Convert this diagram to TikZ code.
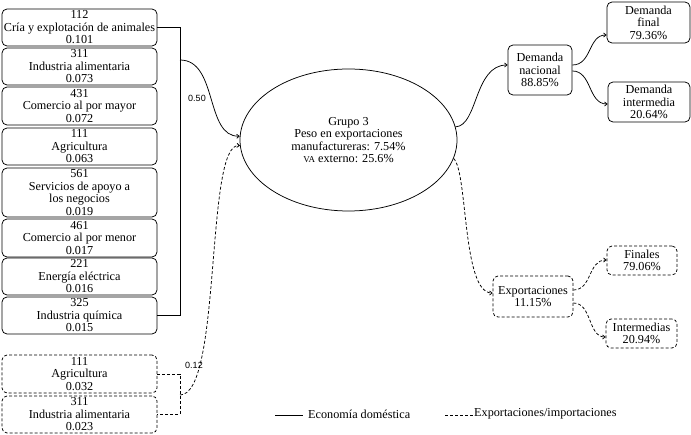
\documentclass[tikz,border=0pt]{standalone}
\usepackage{fontspec}
\setmainfont{Liberation Serif}
\newfontfamily\lsans{Liberation Sans}
\usetikzlibrary{arrows.meta,shapes.geometric}
\newcommand{\fs}{\fontsize{12.2pt}{12.5pt}\selectfont}
\newcommand{\smc}[1]{{\fontsize{9pt}{9pt}\selectfont #1}}
\begin{document}
\begin{tikzpicture}[x=1pt,y=-1pt,
  box/.style={draw, rounded corners=5pt, align=center, inner sep=0pt, font=\fs, line width=0.75pt},
  lbox/.style={box, minimum width=155pt},
  dsh/.style={dash pattern=on 3pt off 2pt},
  ln/.style={line width=0.75pt},
  arr/.style={ln, -{Straight Barb[length=2.5pt,width=4pt]}},
  lab/.style={font=\lsans\fontsize{9pt}{10pt}\selectfont}]
\useasboundingbox (0,0) rectangle (691,435);
% left column
\node[lbox, minimum height=37pt] (b1) at (79.5,27.5) {112\\Cría y explotación de animales\\0.101};
\node[lbox, minimum height=37pt] (b2) at (79.5,66.5) {311\\Industria alimentaria\\0.073};
\node[lbox, minimum height=38pt] (b3) at (79.5,106) {431\\Comercio al por mayor\\0.072};
\node[lbox, minimum height=37pt] (b4) at (79.5,146.5) {111\\Agricultura\\0.063};
\node[lbox, minimum height=49pt] (b5) at (79.5,192.5) {561\\Servicios de apoyo a\\los negocios\\0.019};
\node[lbox, minimum height=38pt] (b6) at (79.5,238) {461\\Comercio al por menor\\0.017};
\node[lbox, minimum height=37pt] (b7) at (79.5,276.5) {221\\Energía eléctrica\\0.016};
\node[lbox, minimum height=37pt] (b8) at (79.5,315.5) {325\\Industria química\\0.015};
\node[lbox, dsh, minimum height=38pt] (bA) at (79.5,374) {111\\Agricultura\\0.032};
\node[lbox, dsh, minimum height=37pt] (bB) at (79.5,414.5) {311\\Industria alimentaria\\0.023};
% brackets
\draw[ln] (b1.east) -- (180,27.5) -- (180,315.5) -- (b8.east);
\draw[ln,dsh] (bA.east) -- (180,374) -- (180,414.5) -- (bB.east);
\coordinate (j1) at (180,60);
\coordinate (j2) at (180,395);
% ellipse
\node[draw, ellipse, ln, minimum width=217pt, minimum height=142pt, inner sep=0pt, align=center, font=\fs] (g) at (348.5,140)
  {Grupo 3\\Peso en exportaciones\\manufactureras: 7.54\%\\\smc{VA} externo: 25.6\%};
\draw[arr] (j1) .. controls (218,60) and (205,137) .. (g.178);
\draw[arr,dsh] (j2) .. controls (222,395) and (205,142) .. (g.183);
\node[lab] (l50) at (197,98) {0.50};
\node[lab] (l12) at (194,365) {0.12};
% right side
\node[box, minimum width=64pt, minimum height=50pt] (dn) at (540,70) {Demanda\\nacional\\88.85\%};
\node[box, minimum width=83pt, minimum height=41pt] (df) at (648.5,22.5) {Demanda\\final\\79.36\%};
\node[box, minimum width=82pt, minimum height=40pt] (di) at (649,102) {Demanda\\intermedia\\20.64\%};
\node[box, dsh, minimum width=80pt, minimum height=41pt] (ex) at (533,296.5) {Exportaciones\\11.15\%};
\node[box, dsh, minimum width=70pt, minimum height=29pt] (fi) at (642,260.5) {Finales\\79.06\%};
\node[box, dsh, minimum width=71pt, minimum height=29pt] (in) at (641.5,333.5) {Intermedias\\20.94\%};
\draw[arr] (g.7) .. controls (478,126) and (474,65) .. (dn.west |- 0,65);
\draw[arr,dsh] (g.-10) .. controls (468,172) and (462,293) .. (ex.west |- 0,293);
\draw[arr] (dn.east |- 0,65) .. controls (592,65) and (588,35) .. (df.west |- 0,35);
\draw[arr] (dn.east |- 0,71) .. controls (592,71) and (588,104) .. (di.west |- 0,104);
\draw[arr,dsh] (ex.east |- 0,290) .. controls (592,290) and (588,260) .. (fi.west |- 0,260);
\draw[arr,dsh] (ex.east |- 0,303) .. controls (592,303) and (588,337) .. (in.west |- 0,337);
% legend
\coordinate (s1) at (275,415);
\coordinate (s2) at (303,415);
\coordinate (d1) at (445,415);
\coordinate (d2) at (473,415);
\draw[ln] (s1) -- (s2);
\draw[ln,dsh] (d1) -- (d2);
\node[anchor=west, font=\fs, inner sep=0pt] (t1) at (308,414) {Economía doméstica};
\node[anchor=west, font=\fs, inner sep=0pt] (t2) at (474,414) {Exportaciones/importaciones};
\end{tikzpicture}
\end{document}
